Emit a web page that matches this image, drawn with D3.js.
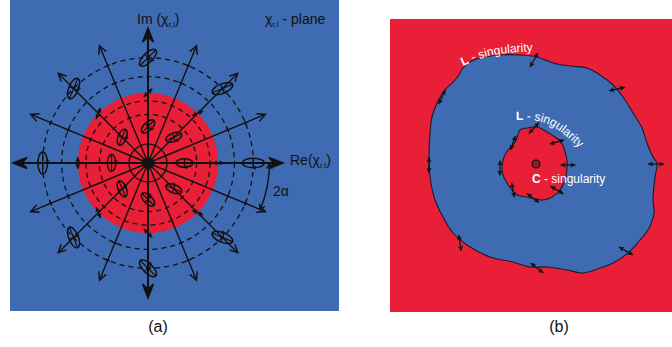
<!DOCTYPE html>
<html><head><meta charset="utf-8">
<script src="https://cdn.jsdelivr.net/npm/d3@7/dist/d3.min.js"></script>
<style>html,body{margin:0;padding:0;background:#fff;} svg{display:block;font-family:"Liberation Sans",Arial,sans-serif;}</style>
</head><body>
<script>
const BLUE="#3f6bb2", RED="#e81f36", INK="#111";
// ---------- Panel (a) data (plane units) ----------
const rayAngles=[0,22.5,45,67.5,90,112.5,135,157.5,180,202.5,225,247.5,270,292.5,315,337.5];
const axisAngles=[0,90,180,270];
const axisLength=1.0, rayLength=0.94;
const redDiskRadius=0.52;
const dashedRadii=[0.36,0.46,0.64,0.78];
const solidRadii=[0.14];
const ellipseAngles=[0,45,90,135,180,225,270,315];
const ellipseOrientation=[0,22.5,45,67.5,90,112.5,135,157.5];
const ellipseRadii=[0.27,0.78];
const lineArrowRadius=0.52;
const tickRadii=[0.64,0.78];
const alphaArc=[0,-22.5];
const alphaArcRadius=0.9;
// ---------- Panel (b) data (field units) ----------
const outerL=[[80,43],[90,39],[110,36],[130,36],[147,38],[163,44],[180,47],[197,49],[210,56],[223,66],[233,78],[243,94],[252,109],[257,124],[263,138],[267,144],[265,158],[263,181],[264,194],[258,211],[250,221],[238,234],[223,244],[210,249],[193,254],[177,251],[157,248],[140,248],[123,243],[100,238],[77,226],[63,214],[53,198],[45,181],[40,158],[39,138],[40,114],[42,98],[47,84],[55,71],[67,59],[73,49]];
const innerL=[[130,111],[137,109],[147,108],[157,113],[165,118],[172,124],[175,133],[177,141],[177,149],[175,161],[170,171],[162,178],[153,181],[145,180],[137,178],[127,176],[122,171],[117,164],[113,156],[112,148],[114,138],[118,131],[123,126],[127,119]];
const cPoint=[146,145];
const outerArrows=[[144,41,60],[227,70,12],[52,78,65],[39,146,90],[266,145,0],[70,224,98],[147,249,-38],[236,232,-29]];
const innerArrows=[[144,109,47],[167,123,15],[123,124,70],[178,146,0],[110,149,90],[123,171,101],[167,171,-31],[143,179,-37]];

const W=672,H=347;
const svg=d3.select("body").append("svg").attr("width",W).attr("height",H);
const rad=d=>d*Math.PI/180;

// ===== Panel (a) =====
const cx=148, cy=163;
const r=d3.scaleLinear().domain([0,1]).range([0,135]);
const pol=(rr,deg)=>[cx+r(rr)*Math.cos(rad(deg)), cy-r(rr)*Math.sin(rad(deg))];
const A=svg.append("g");
A.append("rect").attr("x",10).attr("y",0).attr("width",329).attr("height",311).attr("fill",BLUE);
A.append("circle").attr("cx",cx).attr("cy",cy).attr("r",r(redDiskRadius)).attr("fill",RED);
A.selectAll(".dc").data(dashedRadii).join("circle").attr("cx",cx).attr("cy",cy).attr("r",d=>r(d))
  .attr("fill","none").attr("stroke",INK).attr("stroke-width",1.3).attr("stroke-dasharray","5,4");
A.selectAll(".sc").data(solidRadii).join("circle").attr("cx",cx).attr("cy",cy).attr("r",d=>r(d))
  .attr("fill","none").attr("stroke",INK).attr("stroke-width",1.3);

function chevron(g,tip,deg,len,hw,sw){
  const a=rad(deg), ux=Math.cos(a), uy=-Math.sin(a), px=-uy, py=ux;
  const bx=tip[0]-ux*len, by=tip[1]-uy*len;
  g.append("path").attr("d",`M${bx+px*hw},${by+py*hw}L${tip[0]},${tip[1]}L${bx-px*hw},${by-py*hw}`)
   .attr("fill","none").attr("stroke",INK).attr("stroke-width",sw).attr("stroke-linejoin","miter");
}
function stealth(g,tip,deg,len,hw,notch,fill){
  const a=rad(deg), ux=Math.cos(a), uy=-Math.sin(a), px=-uy, py=ux;
  const bx=tip[0]-ux*len, by=tip[1]-uy*len;
  const nx=tip[0]-ux*(len-notch), ny=tip[1]-uy*(len-notch);
  g.append("path").attr("d",`M${tip[0]},${tip[1]}L${bx+px*hw},${by+py*hw}L${nx},${ny}L${bx-px*hw},${by-py*hw}Z`)
   .attr("fill",fill||INK).attr("stroke","none");
}
// rays
rayAngles.forEach(deg=>{
  const isAxis=axisAngles.includes(deg);
  const L=isAxis?axisLength:rayLength;
  const tip=pol(L,deg);
  const end=isAxis?pol(L-0.05,deg):tip;
  A.append("line").attr("x1",cx).attr("y1",cy).attr("x2",end[0]).attr("y2",end[1])
    .attr("stroke",INK).attr("stroke-width",isAxis?2:1.4);
  if(isAxis){ stealth(A,tip,deg,15,5.5,5); chevron(A,tip,deg,14,5.5,1.5); }
  else chevron(A,tip,deg,8,4,1.4);
  if(!isAxis && (deg/22.5)%2===1){
    tickRadii.forEach(tr=>{
      const p=pol(tr,deg), a=rad(deg), px=Math.sin(a)*2.5, py=Math.cos(a)*2.5;
      A.append("line").attr("x1",p[0]-px).attr("y1",p[1]-py).attr("x2",p[0]+px).attr("y2",p[1]+py)
        .attr("stroke",INK).attr("stroke-width",1.3);
    });
  }
});
// polarization ellipses
ellipseRadii.forEach(er=>{
  const big=er>0.5, a=big?11:8.5, b=big?4.8:4.2;
  ellipseAngles.forEach((deg,i)=>{
    const p=pol(er,deg), psi=ellipseOrientation[i];
    const g=A.append("g").attr("transform",`translate(${p[0]},${p[1]}) rotate(${-psi})`);
    g.append("ellipse").attr("rx",a).attr("ry",b).attr("fill","none").attr("stroke",INK).attr("stroke-width",1.5);
    g.append("line").attr("x1",0).attr("y1",-b).attr("x2",0).attr("y2",b).attr("stroke",INK).attr("stroke-width",1.2);
    g.append("line").attr("x1",-a).attr("y1",0).attr("x2",a).attr("y2",0).attr("stroke",INK).attr("stroke-width",1.2);
    stealth(g,[-1,b],180,4,2.2,1);
  });
});
// linear polarization double arrows on red boundary
ellipseAngles.forEach((deg,i)=>{
  const p=pol(lineArrowRadius,deg), psi=ellipseOrientation[i], a=rad(psi);
  const dx=Math.cos(a)*6, dy=-Math.sin(a)*6;
  A.append("line").attr("x1",p[0]-dx).attr("y1",p[1]-dy).attr("x2",p[0]+dx).attr("y2",p[1]+dy).attr("stroke",INK).attr("stroke-width",1.2);
  stealth(A,[p[0]+dx,p[1]+dy],psi,5,2.6,1);
  stealth(A,[p[0]-dx,p[1]-dy],psi+180,5,2.6,1);
});
A.append("circle").attr("cx",cx).attr("cy",cy).attr("r",6).attr("fill",INK);
// 2alpha arc
{
  const pth=d3.path(), R=r(alphaArcRadius);
  pth.arc(cx,cy,R,rad(-alphaArc[0]),rad(-alphaArc[1]),false);
  A.append("path").attr("d",pth.toString()).attr("fill","none").attr("stroke",INK).attr("stroke-width",1.4);
  const p0=pol(alphaArcRadius,alphaArc[0]), p1=pol(alphaArcRadius,alphaArc[1]);
  chevron(A,[p0[0],p0[1]+0.5],90,5,3,1.3);
  chevron(A,p1,alphaArc[1]-90,5,3,1.3);
}
// labels
function chiLabel(x,y,pre,post){
  const t=A.append("text").attr("x",x).attr("y",y).attr("font-size",14).attr("fill",INK);
  t.append("tspan").text(pre+"χ");
  t.append("tspan").attr("font-size",8).attr("dy",3).text("r,l");
  t.append("tspan").attr("dy",-3).text(post);
}
chiLabel(290,165,"Re(",")");
chiLabel(137,24,"Im (",")");
chiLabel(265,24,""," - plane");
A.append("text").attr("x",273).attr("y",196).attr("font-size",14).attr("fill",INK).text("2α");
svg.append("text").attr("x",158).attr("y",332).attr("text-anchor","middle").attr("font-size",16).attr("fill",INK).text("(a)");

// ===== Panel (b) =====
const xB=d3.scaleLinear().domain([0,282]).range([390,672]);
const yB=d3.scaleLinear().domain([0,293]).range([19,312]);
const B=svg.append("g");
B.append("rect").attr("x",xB(0)).attr("y",yB(0)).attr("width",xB(282)-xB(0)).attr("height",yB(293)-yB(0)).attr("fill",RED);
const blob=d3.line().x(d=>xB(d[0])).y(d=>yB(d[1])).curve(d3.curveCatmullRomClosed.alpha(0.5));
B.append("path").attr("d",blob(outerL)).attr("fill",BLUE).attr("stroke","#1b1b2a").attr("stroke-width",1.1);
B.append("path").attr("d",blob(innerL)).attr("fill",RED).attr("stroke","#1b1b2a").attr("stroke-width",1.1);
B.append("circle").attr("cx",xB(cPoint[0])).attr("cy",yB(cPoint[1])).attr("r",4).attr("fill","#8e1b22").attr("stroke",INK).attr("stroke-width",1.1);
function dbl(g,x,y,deg,half){
  const a=rad(deg), dx=Math.cos(a)*half, dy=-Math.sin(a)*half;
  g.append("line").attr("x1",x-dx).attr("y1",y-dy).attr("x2",x+dx).attr("y2",y+dy).attr("stroke",INK).attr("stroke-width",1.2);
  stealth(g,[x+dx,y+dy],deg,5,2.6,1);
  stealth(g,[x-dx,y-dy],deg+180,5,2.6,1);
}
outerArrows.forEach(d=>dbl(B,xB(d[0]),yB(d[1]),d[2],8));
innerArrows.forEach(d=>dbl(B,xB(d[0]),yB(d[1]),d[2],7.5));
// curved labels
const defs=svg.append("defs");
const crv=d3.line().curve(d3.curveNatural);
defs.append("path").attr("id","lab1").attr("d",crv([[463,66],[494,55],[540,51]]));
defs.append("path").attr("id","lab2").attr("d",crv([[516,120],[550,125],[584,153]]));
function curvedL(id){
  const t=B.append("text").attr("font-size",12).attr("fill","#fff");
  const tp=t.append("textPath").attr("href","#"+id);
  tp.append("tspan").attr("font-weight","bold").text("L");
  tp.append("tspan").text(" - singularity");
}
curvedL("lab1"); curvedL("lab2");
{
  const t=B.append("text").attr("x",532).attr("y",183).attr("font-size",12).attr("fill","#fff");
  t.append("tspan").attr("font-weight","bold").text("C");
  t.append("tspan").text(" - singularity");
}
svg.append("text").attr("x",559).attr("y",332).attr("text-anchor","middle").attr("font-size",16).attr("fill",INK).text("(b)");
</script>
</body></html>
